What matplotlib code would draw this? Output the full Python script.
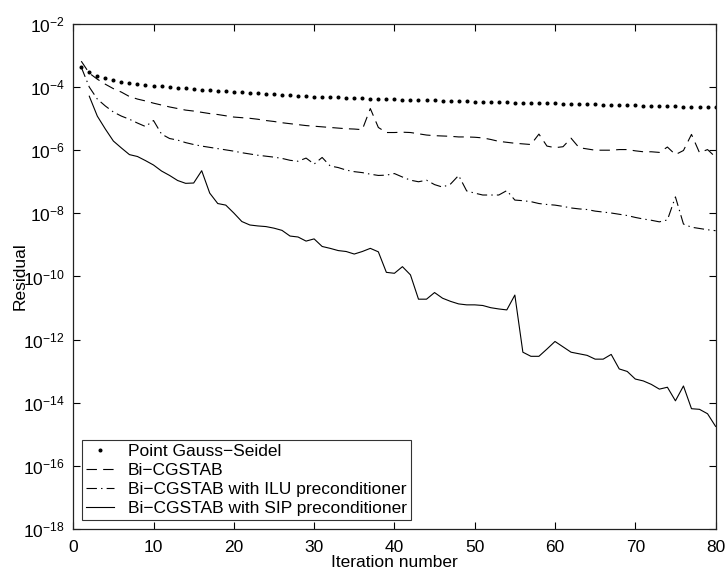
import numpy as np
import matplotlib
matplotlib.use('Agg')
import matplotlib.pyplot as plt
from matplotlib.ticker import LogLocator, NullLocator

plt.rcParams['font.family'] = ['Liberation Sans', 'DejaVu Sans']
plt.rcParams['mathtext.fontset'] = 'custom'
plt.rcParams['mathtext.rm'] = 'Liberation Sans'
plt.rcParams['lines.scale_dashes'] = False

# log10 of residual
iters = np.arange(1, 81)
iters_sip = np.arange(2, 81)

gauss_seidel = [
    -3.35, -3.52, -3.64, -3.72, -3.78, -3.83, -3.87, -3.90, -3.93, -3.96,
    -3.98, -4.00, -4.02, -4.04, -4.06, -4.08, -4.10, -4.12, -4.13, -4.15,
    -4.16, -4.18, -4.19, -4.21, -4.22, -4.24, -4.25, -4.27, -4.28, -4.30,
    -4.31, -4.32, -4.33, -4.34, -4.35, -4.36, -4.37, -4.37, -4.38, -4.39,
    -4.40, -4.40, -4.41, -4.42, -4.42, -4.43, -4.44, -4.44, -4.45, -4.46,
    -4.46, -4.47, -4.48, -4.48, -4.49, -4.50, -4.50, -4.51, -4.51, -4.52,
    -4.53, -4.53, -4.54, -4.54, -4.55, -4.56, -4.56, -4.57, -4.57, -4.58,
    -4.59, -4.59, -4.60, -4.60, -4.61, -4.62, -4.62, -4.63, -4.63, -4.64]

bicgstab = [
    -3.18, -3.56, -3.75, -3.91, -4.05, -4.16, -4.30, -4.38, -4.44, -4.51,
    -4.57, -4.63, -4.68, -4.73, -4.76, -4.80, -4.84, -4.87, -4.91, -4.95,
    -4.97, -4.99, -5.02, -5.06, -5.09, -5.13, -5.16, -5.19, -5.22, -5.24,
    -5.26, -5.28, -5.30, -5.32, -5.33, -5.35, -4.68, -5.28, -5.44, -5.44,
    -5.43, -5.44, -5.48, -5.52, -5.54, -5.55, -5.56, -5.58, -5.58, -5.59,
    -5.61, -5.66, -5.72, -5.75, -5.78, -5.80, -5.82, -5.49, -5.87, -5.92,
    -5.89, -5.62, -5.92, -5.96, -6.00, -6.00, -6.00, -5.98, -5.98, -6.02,
    -6.05, -6.05, -6.07, -5.90, -6.14, -6.01, -5.50, -6.08, -5.98, -6.22]

bicgstab_ilu = [
    -3.37, -4.00, -4.38, -4.60, -4.79, -4.92, -5.02, -5.14, -5.25, -5.06,
    -5.49, -5.63, -5.68, -5.76, -5.82, -5.87, -5.91, -5.95, -5.99, -6.03,
    -6.08, -6.12, -6.16, -6.19, -6.22, -6.26, -6.32, -6.35, -6.25, -6.44,
    -6.23, -6.50, -6.55, -6.63, -6.68, -6.71, -6.76, -6.80, -6.79, -6.74,
    -6.85, -6.95, -7.00, -6.95, -7.09, -7.17, -7.07, -6.80, -7.29, -7.36,
    -7.42, -7.42, -7.42, -7.28, -7.58, -7.60, -7.63, -7.69, -7.72, -7.74,
    -7.78, -7.83, -7.86, -7.88, -7.93, -7.96, -7.99, -8.03, -8.07, -8.13,
    -8.18, -8.22, -8.27, -8.21, -7.48, -8.34, -8.44, -8.48, -8.52, -8.55]

bicgstab_sip = [
    -4.29, -4.92, -5.33, -5.71, -5.93, -6.14, -6.20, -6.33, -6.47,
    -6.66, -6.80, -6.96, -7.05, -7.04, -6.65, -7.36, -7.69, -7.74, -7.99,
    -8.26, -8.37, -8.40, -8.42, -8.47, -8.54, -8.72, -8.75, -8.88, -8.81,
    -9.05, -9.11, -9.18, -9.21, -9.29, -9.21, -9.11, -9.22, -9.87, -9.90,
    -9.69, -9.95, -10.72, -10.72, -10.51, -10.69, -10.79, -10.87, -10.90, -10.90,
    -10.92, -10.99, -11.03, -11.06, -10.59, -12.40, -12.53, -12.53, -12.30, -12.06,
    -12.23, -12.40, -12.45, -12.50, -12.62, -12.62, -12.47, -12.93, -13.01, -13.25,
    -13.31, -13.42, -13.57, -13.51, -13.94, -13.47, -14.19, -14.21, -14.35, -14.75]

labels = ['Point Gauss\u2212Seidel', 'Bi\u2212CGSTAB',
          'Bi\u2212CGSTAB with ILU preconditioner',
          'Bi\u2212CGSTAB with SIP preconditioner']

fs = 12.5
fig = plt.figure(figsize=(7.25, 5.7), dpi=100)
ax = fig.add_axes([0.101, 0.072, 0.886, 0.886])

lw = 0.8
ax.semilogy(iters, 10.0 ** np.array(gauss_seidel), linestyle='none',
            marker='.', markersize=3.8, color='black', label=labels[0])
ax.semilogy(iters, 10.0 ** np.array(bicgstab), color='black', lw=lw,
            linestyle=(0, (7.5, 4.5)), label=labels[1])
ax.semilogy(iters, 10.0 ** np.array(bicgstab_ilu), color='black', lw=lw,
            linestyle=(0, (7.5, 3, 1, 3)), label=labels[2])
ax.semilogy(iters_sip, 10.0 ** np.array(bicgstab_sip), color='black', lw=lw,
            linestyle='-', label=labels[3])

ax.set_xlim(0, 80)
ax.set_ylim(1e-18, 1e-2)
ax.set_xticks(range(0, 81, 10))
ax.yaxis.set_major_locator(LogLocator(base=100.0, numticks=20))
ax.yaxis.set_minor_locator(NullLocator())
ax.tick_params(which='both', direction='in', top=True, right=True,
               length=5, width=0.8, labelsize=fs, colors='black')
ax.tick_params(axis='x', pad=8)
ax.tick_params(axis='y', pad=6)
for s in ax.spines.values():
    s.set_linewidth(0.9)
    s.set_color('#222222')

ax.set_xlabel('Iteration number', fontsize=fs, labelpad=0)
ax.set_ylabel('Residual', fontsize=fs, labelpad=-3)

leg = ax.legend(loc='lower left', fontsize=fs, frameon=True, fancybox=False,
                edgecolor='black', handlelength=1.6, handletextpad=0.8,
                borderpad=0.25, labelspacing=0.22, borderaxespad=0.5,
                markerscale=1.0)
leg.get_frame().set_linewidth(0.8)

fig.savefig('out.png', dpi=100)
